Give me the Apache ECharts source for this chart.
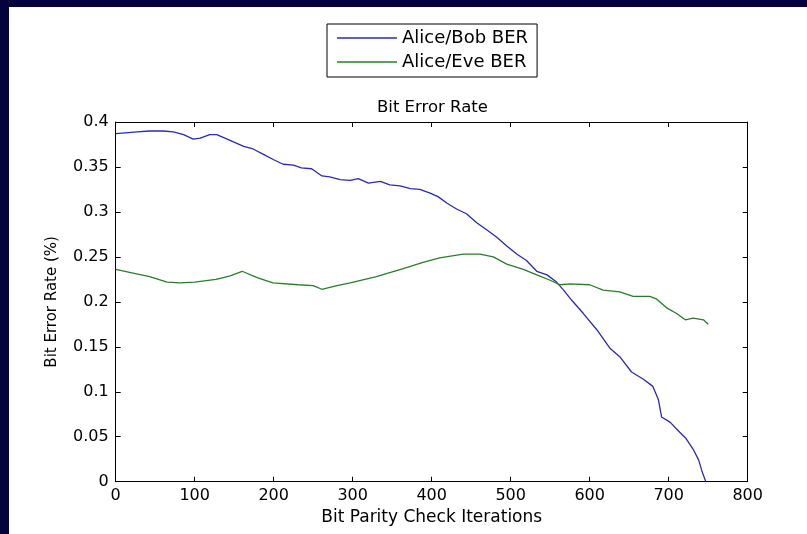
<!DOCTYPE html>
<html>
<head>
<meta charset="utf-8">
<script src="https://cdn.jsdelivr.net/npm/echarts@6/dist/echarts.min.js"></script>
<style>
html,body{margin:0;padding:0;background:#fff;}
#chart{width:807px;height:534px;}
</style>
</head>
<body>
<div id="chart"></div>
<script>
// ---- data ----
const xTicks = [0, 100, 200, 300, 400, 500, 600, 700, 800];
const yTicks = [0, 0.05, 0.1, 0.15, 0.2, 0.25, 0.3, 0.35, 0.4];

const bobX = [0, 12, 27, 43, 60, 73, 86, 98, 107, 119, 128, 136, 149, 162, 174, 187, 200, 212, 225, 235, 248, 261, 271, 284, 297, 307, 320, 335, 347, 360, 373, 385, 398, 408, 419, 432, 444, 457, 470, 482, 495, 508, 520, 533, 546, 558, 567, 577, 592, 609, 626, 638, 653, 668, 680, 687, 691, 702, 714, 722, 731, 738, 742, 747];
const bobY = [0.387, 0.388, 0.389, 0.390, 0.390, 0.389, 0.386, 0.381, 0.382, 0.386, 0.386, 0.383, 0.378, 0.373, 0.370, 0.364, 0.358, 0.353, 0.352, 0.349, 0.348, 0.340, 0.339, 0.336, 0.335, 0.337, 0.332, 0.334, 0.330, 0.329, 0.326, 0.325, 0.321, 0.317, 0.310, 0.303, 0.298, 0.288, 0.280, 0.272, 0.262, 0.253, 0.246, 0.234, 0.230, 0.222, 0.213, 0.202, 0.187, 0.169, 0.148, 0.139, 0.122, 0.114, 0.106, 0.091, 0.072, 0.066, 0.055, 0.048, 0.036, 0.024, 0.012, 0.0];

const eveX = [0, 22, 43, 65, 81, 100, 127, 145, 160, 179, 199, 231, 250, 261, 280, 297, 330, 364, 389, 410, 440, 461, 478, 495, 516, 533, 550, 562, 575, 600, 617, 638, 655, 676, 685, 698, 710, 721, 731, 744, 750];
const eveY = [0.236, 0.232, 0.228, 0.222, 0.221, 0.222, 0.225, 0.229, 0.234, 0.227, 0.221, 0.219, 0.218, 0.214, 0.218, 0.221, 0.228, 0.237, 0.244, 0.249, 0.253, 0.253, 0.250, 0.242, 0.236, 0.230, 0.224, 0.219, 0.220, 0.219, 0.213, 0.211, 0.206, 0.206, 0.203, 0.193, 0.187, 0.180, 0.182, 0.180, 0.175];

const seriesNames = ['Alice/Bob BER', 'Alice/Eve BER'];
const titleText = 'Bit Error Rate';
const xName = 'Bit Parity Check Iterations';
const yName = 'Bit Error Rate (%)';

function zip(a, b) { return a.map((v, i) => [v, b[i]]); }

const FONT = 'DejaVu Sans';
const BLUE = '#2a2ab4';
const GREEN = '#2a7d2a';
const chart = echarts.init(document.getElementById('chart'), null, {renderer: 'canvas'});

const tickCommon = {show: true, inside: true, length: 5, lineStyle: {color: '#000', width: 1}};
const lineCommon = {show: true, onZero: false, lineStyle: {color: '#000', width: 1}};

chart.setOption({
  animation: false,
  backgroundColor: '#05033b',
  graphic: [{
    type: 'rect', silent: true, z: -10,
    shape: {x: 9, y: 7, width: 798, height: 527},
    style: {fill: '#ffffff'}
  }],
  title: {
    text: titleText, left: 372, top: 94,
    textStyle: {fontFamily: FONT, fontSize: 16.5, fontWeight: 'normal', color: '#000'}
  },
  legend: {
    orient: 'vertical', left: 327, top: 24,
    padding: [5, 9, 6, 10],
    icon: 'rect', itemWidth: 60, itemHeight: 1.4, itemGap: 6,
    borderColor: '#000', borderWidth: 1, backgroundColor: '#fff',
    textStyle: {fontFamily: FONT, fontSize: 18, color: '#000'},
    data: seriesNames
  },
  grid: {left: 115.7, top: 122, right: 59.3, bottom: 52.3, containLabel: false},
  xAxis: [{
    type: 'value', min: xTicks[0], max: xTicks[xTicks.length - 1], interval: 100,
    name: xName, nameLocation: 'middle', nameGap: 27,
    nameTextStyle: {fontFamily: FONT, fontSize: 17, color: '#000'},
    axisLine: lineCommon, axisTick: tickCommon,
    axisLabel: {fontFamily: FONT, fontSize: 16, color: '#000', margin: 6},
    splitLine: {show: false}
  }, {
    type: 'value', position: 'top', min: xTicks[0], max: xTicks[xTicks.length - 1], interval: 100,
    axisLine: lineCommon, axisTick: tickCommon, axisLabel: {show: false}, splitLine: {show: false}
  }],
  yAxis: [{
    type: 'value', min: yTicks[0], max: yTicks[yTicks.length - 1], interval: 0.05,
    name: yName, nameLocation: 'middle', nameGap: 56,
    nameTextStyle: {fontFamily: FONT, fontSize: 15, color: '#000'},
    axisLine: lineCommon, axisTick: tickCommon,
    axisLabel: {fontFamily: FONT, fontSize: 16, color: '#000', margin: 7},
    splitLine: {show: false}
  }, {
    type: 'value', position: 'right', min: yTicks[0], max: yTicks[yTicks.length - 1], interval: 0.05,
    axisLine: lineCommon, axisTick: tickCommon, axisLabel: {show: false}, splitLine: {show: false}
  }],
  series: [{
    name: seriesNames[0], type: 'line', data: zip(bobX, bobY),
    symbol: 'none', showSymbol: false,
    lineStyle: {color: BLUE, width: 1.3}, itemStyle: {color: BLUE}
  }, {
    name: seriesNames[1], type: 'line', data: zip(eveX, eveY),
    symbol: 'none', showSymbol: false,
    lineStyle: {color: GREEN, width: 1.3}, itemStyle: {color: GREEN}
  }]
});
</script>
</body>
</html>
